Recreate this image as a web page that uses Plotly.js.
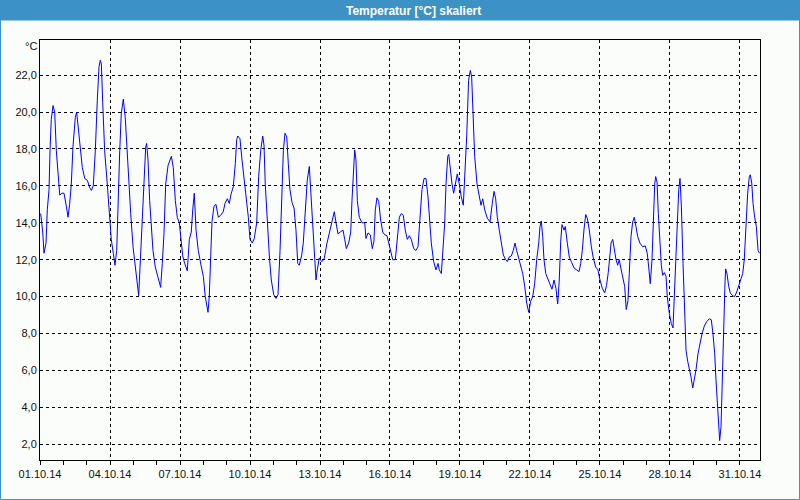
<!DOCTYPE html>
<html>
<head>
<meta charset="utf-8">
<script src="https://cdn.plot.ly/plotly-3.0.1.min.js"></script>
<style>html,body{margin:0;padding:0;background:#fbfdfb;}#chart{width:800px;height:500px;}</style>
</head>
<body>
<div id="chart"></div>
<script>
// hours since 01.10.2014 00:00
const hours = [
0.7,2.8,4.1,6.2,7.5,9.3,10.3,11.6,13.4,15.1,
16.8,18.5,20.3,22.6,24.7,27.1,28.8,30.5,32.2,33.9,
36.3,37.7,39.8,41.9,43.5,46.0,48.7,51.1,52.8,54.8,
56.9,58.9,60.7,62.0,63.1,64.5,66.5,69.2,71.3,73.3,
75.4,77.1,78.9,80.2,82.0,83.6,85.7,87.7,89.5,91.2,
93.3,95.7,98.0,99.8,101.5,102.9,104.9,107.0,108.7,109.7,
111.1,112.8,114.5,116.2,118.6,121.4,124.1,125.8,127.5,129.3,
131.7,135.1,137.1,139.2,141.2,143.3,144.7,146.8,148.8,151.5,
153.6,155.6,157.1,158.7,160.5,162.8,165.6,168.0,170.0,172.8,
174.1,175.9,176.9,179.0,181.0,183.4,185.9,188.5,190.3,192.7,
194.7,196.5,198.8,200.9,202.3,203.4,205.7,207.8,209.8,211.9,
214.3,216.0,218.4,220.4,222.9,224.9,227.0,229.1,230.4,231.7,
233.8,235.9,237.9,240.4,242.7,244.8,246.9,248.6,250.3,252.0,
253.8,255.4,257.1,259.2,261.3,263.3,265.1,266.7,269.2,270.8,
273.3,274.9,277.0,278.4,280.5,281.8,283.9,285.2,287.3,289.7,
292.1,295.2,297.6,300.3,302.7,304.5,306.5,308.9,311.7,313.4,
315.1,317.5,319.6,320.9,322.3,323.7,325.0,326.4,328.4,331.2,
334.0,335.3,337.4,339.7,341.8,343.5,344.9,346.6,348.4,350.4,
352.5,354.6,356.9,358.7,360.7,362.8,365.5,367.5,369.6,371.6,
373.7,375.7,377.8,379.9,381.9,384.4,386.7,388.8,390.9,392.9,
395.0,397.0,399.1,400.8,402.5,404.9,407.3,409.4,410.7,412.8,
414.8,416.3,417.6,419.4,420.4,422.0,423.8,425.5,427.2,429.2,
431.3,433.3,435.4,437.2,439.0,440.8,442.6,444.0,445.3,447.1,
449.5,451.6,453.6,455.4,457.4,460.1,462.9,465.2,467.0,468.7,
470.4,472.4,474.5,476.6,479.0,480.7,482.7,484.8,486.8,488.6,
490.3,492.4,494.4,496.5,498.6,500.6,502.7,504.7,506.8,508.8,
510.9,513.0,514.3,515.6,517.1,518.4,520.2,522.5,524.6,526.6,
528.7,530.7,532.5,534.1,535.6,536.9,539.0,540.3,542.4,544.4,
546.5,549.3,552.0,554.4,556.2,557.8,559.5,561.3,562.9,565.0,
567.1,569.1,571.6,573.9,576.0,578.4,580.8,582.7,584.5,585.8,
587.4,589.1,590.7,592.5,594.2,595.8,597.6,599.3,601.4,603.0,
604.8,606.1,607.9,609.6,611.3,613.0,614.8,617.1,619.9,622.6,
624.6,626.1,627.7,629.5,630.8,632.3,633.3,634.7,636.0,637.7,
639.1,640.5,642.2,643.9,645.2,647.3,649.3,651.1,652.4,653.9,
655.2,657.0,658.3,659.7,661.4,663.1,664.5,666.2,667.9,669.6,
671.4,673.0,674.8,676.8,678.9,681.0,683.3,685.8,688.4,690.5,
692.2,694.0,695.3,696.7,698.1,699.1,700.5,701.5,702.5,703.6,
704.6,705.3,706.6,708.4,710.0,712.5,714.5,716.6,718.7,720.7,
722.8,724.4,726.2,727.9,729.6,730.6,732.1,733.4,735.1,736.8,
738.6,740.0
];
const temps = [
14.5,13.5,12.35,12.9,14.7,15.8,17.9,19.6,20.35,20.0,
17.9,16.5,15.5,15.6,15.6,14.9,14.3,15.0,16.1,18.1,
19.7,20.0,18.9,17.9,17.0,16.4,16.3,15.9,15.75,16.0,
17.9,20.6,22.45,22.8,22.6,20.5,17.9,16.1,14.3,13.1,
12.35,11.7,12.5,15.2,17.9,19.9,20.7,19.7,17.9,16.5,
14.5,12.7,11.6,10.9,10.05,11.6,14.0,16.1,18.1,18.3,
17.4,15.2,13.8,12.5,11.6,11.1,10.5,11.8,13.4,16.1,
17.1,17.6,17.0,15.2,14.3,14.0,13.1,12.2,11.8,11.4,
13.1,13.5,14.7,15.6,13.6,12.5,11.7,11.1,10.0,9.15,
10.0,12.5,14.06,14.9,15.0,14.3,14.4,14.6,15.05,15.3,
15.05,15.55,15.95,17.2,18.5,18.7,18.55,17.4,16.4,15.6,
14.3,13.1,12.9,13.15,14.0,16.5,17.9,18.7,18.2,16.1,
14.0,12.2,10.9,10.1,9.9,10.1,12.5,15.2,17.9,18.85,
18.65,17.2,15.8,15.1,14.8,13.6,11.8,11.7,12.25,12.9,
15.05,16.3,17.05,15.8,14.0,12.35,10.9,11.45,12.1,11.9,
12.0,12.9,13.5,14.15,14.6,14.0,13.4,13.5,13.6,13.1,
12.6,12.9,13.5,15.2,17.0,17.95,17.4,15.2,14.3,14.0,
14.0,13.15,13.45,13.35,12.6,13.0,14.7,15.35,15.15,14.15,
13.5,13.35,13.3,12.9,12.35,12.0,12.0,13.1,14.3,14.5,
14.4,13.6,13.1,13.3,13.1,12.6,12.5,12.7,14.15,15.8,
16.4,16.4,15.4,14.0,12.9,11.9,11.45,11.8,11.45,11.25,
12.7,14.0,16.1,17.6,17.7,16.9,16.1,15.6,16.1,16.65,
16.1,15.4,14.95,16.6,18.8,21.7,22.25,21.9,19.7,17.6,
16.1,15.4,14.95,15.3,14.7,14.25,14.05,15.05,15.7,15.3,
14.3,13.6,12.9,12.25,12.0,11.9,12.15,12.2,12.5,12.9,
12.5,12.1,11.65,11.25,10.55,9.65,9.15,9.75,10.0,10.7,
12.0,12.9,13.8,14.1,13.25,12.0,11.25,10.9,10.7,10.4,
10.9,10.45,9.6,10.9,13.0,13.9,13.6,13.8,12.9,12.15,
11.9,11.55,11.45,11.35,11.8,12.5,13.6,14.45,14.25,13.6,
12.7,12.1,11.6,11.45,10.9,10.45,10.2,10.6,11.3,12.2,
12.9,13.1,12.5,12.0,11.7,12.0,11.5,11.1,10.55,9.3,
9.8,11.25,13.25,14.05,14.3,13.8,13.25,12.9,12.7,12.75,
12.35,11.6,10.7,12.0,14.15,16.1,16.5,16.2,14.5,12.7,
11.7,11.15,11.3,11.1,10.0,9.1,8.55,8.3,10.0,12.5,
14.3,15.8,16.4,14.9,11.8,9.3,7.1,6.5,6.1,5.65,
5.05,5.5,6.05,6.9,7.55,8.0,8.4,8.65,8.8,8.75,
8.0,6.9,5.5,4.05,2.6,2.2,2.95,5.1,7.65,9.3,
10.8,11.5,11.25,10.55,10.2,10.05,10.0,10.25,10.55,10.9,
11.25,12.0,13.8,15.6,16.5,16.6,16.15,15.05,14.3,13.8,
12.5,12.35
];
const startMs = Date.UTC(2014, 9, 1, 0, 0, 0);
const times = hours.map(h => new Date(startMs + h * 3600000).toISOString().slice(0, 19).replace('T', ' '));

const titleText = 'Temperatur [°C] skaliert';
const unitText = '°C';
const blue = '#3d92c5';

const trace = {
  x: times, y: temps, type: 'scatter', mode: 'lines',
  line: {color: '#0000ff', width: 1}, hoverinfo: 'skip'
};

const tickFont = {family: 'Liberation Sans, Arial, sans-serif', size: 11, color: '#111'};

const layout = {
  width: 800, height: 500,
  margin: {l: 40, r: 40, t: 40, b: 40, pad: 0},
  paper_bgcolor: '#fbfdfb', plot_bgcolor: '#fbfdfb',
  separators: ',.',
  showlegend: false,
  title: {
    text: '<b>' + titleText + '</b>',
    font: {family: 'Liberation Sans, Arial, sans-serif', size: 12, color: '#ffffff'},
    x: 0.517, xref: 'container', xanchor: 'center',
    y: 0.979, yref: 'container', yanchor: 'middle'
  },
  xaxis: {
    type: 'date',
    range: ['2014-10-01 00:00', '2014-10-31 20:35'],
    tick0: '2014-10-01', dtick: 3 * 86400000,
    tickformat: '%d.%m.%y',
    ticks: 'outside', ticklen: 4, tickcolor: '#000', tickwidth: 1,
    minor: {dtick: 86400000, tick0: '2014-10-01', ticks: 'outside', ticklen: 4, tickcolor: '#000', showgrid: false},
    showgrid: true, gridcolor: '#000', gridwidth: 1, griddash: '3px,3px',
    showline: true, linecolor: '#000', linewidth: 1, mirror: true,
    zeroline: false, tickfont: tickFont, automargin: false, fixedrange: true
  },
  yaxis: {
    range: [1.15, 23.9],
    tick0: 0, dtick: 2, tickformat: '.1f',
    ticks: '',
    showgrid: true, gridcolor: '#000', gridwidth: 1, griddash: '3px,3px',
    showline: true, linecolor: '#000', linewidth: 1, mirror: true,
    zeroline: false, tickfont: tickFont, automargin: false, fixedrange: true
  },
  shapes: [
    {type: 'rect', xref: 'paper', yref: 'paper', x0: -40/720, x1: 760/720, y0: (460-20.5)/420, y1: 460/420,
     fillcolor: blue, line: {width: 0}, layer: 'below'},
    {type: 'rect', xref: 'paper', yref: 'paper', x0: -39.5/720, x1: 759.5/720, y0: -39.5/420, y1: 459.5/420,
     fillcolor: 'rgba(0,0,0,0)', line: {color: blue, width: 1}, layer: 'below'}
  ],
  annotations: [
    {text: unitText, xref: 'paper', yref: 'paper', x: -9/720, y: (460-46)/420,
     xanchor: 'center', yanchor: 'middle', showarrow: false,
     font: {family: 'Liberation Sans, Arial, sans-serif', size: 11, color: '#111'}}
  ]
};

Plotly.newPlot('chart', [trace], layout, {staticPlot: true, displayModeBar: false});
</script>
</body>
</html>
